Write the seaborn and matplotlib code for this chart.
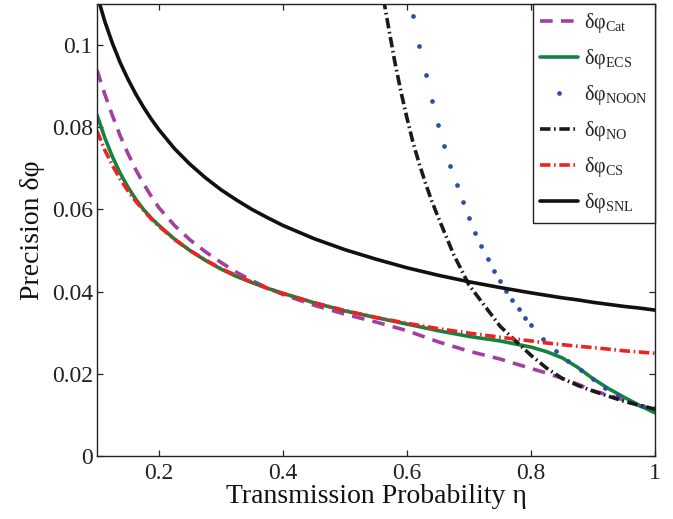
import seaborn as sns
import matplotlib.pyplot as plt
import pandas as pd
import numpy as np
from matplotlib.ticker import FormatStrFormatter

# transmission probability grid used for the smooth curves
eta = [0.1, 0.1125, 0.125, 0.1375, 0.15, 0.1625, 0.175, 0.1875, 0.2, 0.225, 0.25, 0.275,
       0.3, 0.325, 0.35, 0.375, 0.4, 0.45, 0.5, 0.55, 0.6, 0.65, 0.7, 0.75, 0.8, 0.825,
       0.85, 0.875, 0.9, 0.925, 0.95, 0.975, 1.0]

cat = [0.0939, 0.0881, 0.0828, 0.0779, 0.0736, 0.0697, 0.0663, 0.0632, 0.0604, 0.0561, 0.0526,
       0.0497, 0.0471, 0.0447, 0.0427, 0.0409, 0.0393, 0.0367, 0.0345, 0.0326, 0.0305, 0.0278,
       0.0255, 0.0236, 0.0213, 0.0202, 0.0189, 0.0175, 0.0159, 0.0148, 0.0136, 0.0122, 0.0107]
ecs = [0.0830, 0.0775, 0.0728, 0.0688, 0.0654, 0.0625, 0.0600, 0.0579, 0.0561, 0.0528, 0.0500,
       0.0476, 0.0455, 0.0437, 0.0422, 0.0408, 0.0396, 0.0373, 0.0353, 0.0337, 0.0321, 0.0305,
       0.0291, 0.0280, 0.0265, 0.0254, 0.0239, 0.0216, 0.0188, 0.0164, 0.0143, 0.0123, 0.0105]
cs = [0.0791, 0.0745, 0.0707, 0.0674, 0.0645, 0.0620, 0.0598, 0.0577, 0.0559, 0.0527, 0.0500,
      0.0477, 0.0456, 0.0439, 0.0423, 0.0408, 0.0395, 0.0373, 0.0354, 0.0337, 0.0323, 0.0310,
      0.0299, 0.0289, 0.0280, 0.0275, 0.0271, 0.0267, 0.0264, 0.0260, 0.0256, 0.0253, 0.0250]
snl = [0.1123, 0.1058, 0.1004, 0.0957, 0.0917, 0.0881, 0.0849, 0.0820, 0.0794, 0.0748, 0.0710,
       0.0677, 0.0648, 0.0623, 0.0600, 0.0580, 0.0561, 0.0529, 0.0502, 0.0479, 0.0458, 0.0440,
       0.0424, 0.0410, 0.0397, 0.0391, 0.0385, 0.0380, 0.0374, 0.0369, 0.0364, 0.0360, 0.0355]

eta_no = [0.56, 0.57, 0.58, 0.59, 0.60, 0.61, 0.62, 0.63, 0.64, 0.65, 0.675, 0.70, 0.725, 0.75,
          0.775, 0.8, 0.825, 0.85, 0.875, 0.9, 0.95, 1.0]
no = [0.1130, 0.1045, 0.0962, 0.0888, 0.0822, 0.0761, 0.0710, 0.0663, 0.0620, 0.0582, 0.0491,
      0.0416, 0.0366, 0.0316, 0.0280, 0.0245, 0.0214, 0.0189, 0.0172, 0.0158, 0.0133, 0.0114]

# NOON dots
eta_noon = [0.61, 0.62, 0.63, 0.64, 0.65, 0.66, 0.67, 0.68, 0.69, 0.70, 0.71, 0.72, 0.73, 0.74,
            0.75, 0.76, 0.77, 0.78, 0.79, 0.80, 0.82, 0.84, 0.86, 0.88, 0.90, 0.92, 0.94, 0.96,
            0.98, 1.00]
noon = [0.1071, 0.0998, 0.0927, 0.0864, 0.0805, 0.0754, 0.0706, 0.0659, 0.0618, 0.0579, 0.0543,
        0.0511, 0.0479, 0.0450, 0.0426, 0.0401, 0.0380, 0.0358, 0.0336, 0.0319, 0.0285, 0.0255,
        0.0231, 0.0209, 0.0187, 0.0165, 0.0148, 0.0131, 0.0122, 0.0117]

labels = ['δφ$_{\\mathrm{Cat}}$', 'δφ$_{\\mathrm{ECS}}$', 'δφ$_{\\mathrm{NOON}}$',
          'δφ$_{\\mathrm{NO}}$', 'δφ$_{\\mathrm{CS}}$', 'δφ$_{\\mathrm{SNL}}$']

sns.set_style('ticks')
plt.rcParams['font.family'] = ['Liberation Serif', 'DejaVu Serif']
plt.rcParams['mathtext.fontset'] = 'custom'
plt.rcParams['mathtext.rm'] = 'Liberation Serif'
plt.rcParams['mathtext.it'] = 'Liberation Serif:italic'

fig = plt.figure(figsize=(6.73, 5.19), dpi=100)
ax = fig.add_axes([0.1441, 0.1214, 0.8292, 0.8709])

lw = 2.6
dashdot = (0, (2.9, 1.0, 0.45, 1.0))

sns.lineplot(x=eta, y=cat, ax=ax, color='#A43FA2', lw=lw, linestyle=(0, (3.5, 2.3)),
             label=labels[0], sort=False)
sns.lineplot(x=eta, y=ecs, ax=ax, color='#13843F', lw=lw, linestyle='-',
             label=labels[1], sort=False)
sns.lineplot(x=eta_noon, y=noon, ax=ax, color='#2C4FA6', marker='o', ms=3.4, mew=0,
             linestyle='none', label=labels[2], sort=False)
sns.lineplot(x=eta_no, y=no, ax=ax, color='#1A1A1A', lw=lw, linestyle=dashdot,
             label=labels[3], sort=False)
sns.lineplot(x=eta, y=cs, ax=ax, color='#EE2222', lw=lw, linestyle=dashdot,
             label=labels[4], sort=False)
sns.lineplot(x=eta, y=snl, ax=ax, color='#111111', lw=lw, linestyle='-',
             label=labels[5], sort=False)

ax.set_xlim(0.1, 1.0)
ax.set_ylim(0, 0.11)
ax.set_xticks([0.2, 0.4, 0.6, 0.8, 1.0])
ax.set_yticks([0, 0.02, 0.04, 0.06, 0.08, 0.1])
ax.xaxis.set_major_formatter(FormatStrFormatter('%g'))
ax.yaxis.set_major_formatter(FormatStrFormatter('%g'))
ax.tick_params(direction='in', length=4, width=0.9, top=True, right=True,
               labelsize=17, colors='#222222')
ax.tick_params(axis='x', pad=5)
ax.tick_params(axis='y', pad=3)
for s in ax.spines.values():
    s.set_visible(True)
    s.set_linewidth(1.0)
    s.set_color('#222222')

ax.set_xlabel('Transmission Probability η', fontsize=20, labelpad=0, color='#111111')
ax.set_ylabel('Precision δφ', fontsize=20, labelpad=5, color='#111111')

leg = ax.legend(loc='upper right', borderaxespad=0, fancybox=False, framealpha=1,
                edgecolor='#222222', fontsize=14.5, handlelength=1.9, handletextpad=0.3,
                labelspacing=0.6, borderpad=0.35, numpoints=1)
leg.get_frame().set_linewidth(1.0)

fig.savefig('out.png', dpi=100)
